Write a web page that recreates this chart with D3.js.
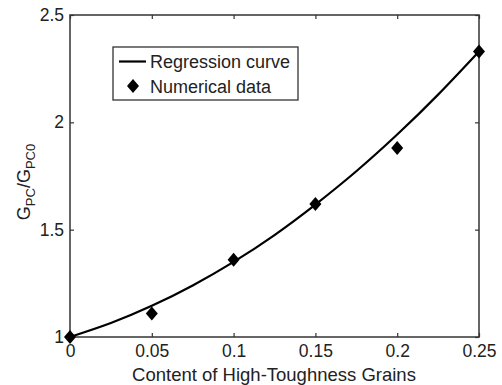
<!DOCTYPE html>
<style>
    body { margin: 0; background: #fff; }
    text { font-family: "Liberation Sans", Arial, sans-serif; fill: #222; }
    .frame { fill: none; stroke: #333; stroke-width: 1.5px; }
    .curve { fill: none; stroke: #000; stroke-width: 2.2px; }
</style>
<body>
<script src="https://d3js.org/d3.v7.min.js"></script>
<script>
    // numerical data (diamonds)
    var dataX = [0, 0.05, 0.1, 0.15, 0.2, 0.25];
    var dataY = [1.0, 1.11, 1.36, 1.62, 1.88, 2.33];
    // regression curve
    var curveX = [0, 0.025, 0.05, 0.075, 0.1, 0.125, 0.15, 0.175, 0.2, 0.225, 0.25];
    var curveY = [1.0, 1.065, 1.145, 1.24, 1.35, 1.475, 1.617, 1.772, 1.943, 2.129, 2.33];
    var xTicks = [0, 0.05, 0.1, 0.15, 0.2, 0.25];
    var yTicks = [1, 1.5, 2, 2.5];
    var legendLabels = ["Regression curve", "Numerical data"];

    var pl = 70, pr = 479, pt = 15, pb = 337;

    var svg = d3.select("body").append("svg")
        .attr("width", 502)
        .attr("height", 385);

    var x = d3.scaleLinear().domain([0, 0.25]).range([pl, pr]);
    var y = d3.scaleLinear().domain([1, 2.5]).range([pb, pt]);

    // box
    svg.append("rect")
        .attr("class", "frame")
        .attr("x", pl).attr("y", pt)
        .attr("width", pr - pl).attr("height", pb - pt);

    // ticks, inside, on all four sides
    var tk = 4;
    function tickStyle(g) {
        g.select(".domain").remove();
        g.selectAll(".tick line").attr("stroke", "#333").attr("stroke-width", 1.2);
        g.selectAll(".tick text").style("font-size", "17.5px").attr("fill", "#222");
    }
    svg.append("g")
        .attr("transform", "translate(0," + pb + ")")
        .call(d3.axisBottom(x).tickValues(xTicks).tickSize(-tk).tickPadding(8).tickFormat(d3.format("")))
        .call(tickStyle);
    svg.append("g")
        .attr("transform", "translate(0," + pt + ")")
        .call(d3.axisTop(x).tickValues(xTicks).tickSize(-tk).tickFormat(""))
        .call(tickStyle);
    svg.append("g")
        .attr("transform", "translate(" + pl + ",0)")
        .call(d3.axisLeft(y).tickValues(yTicks).tickSize(-tk).tickPadding(6).tickFormat(d3.format("")))
        .call(tickStyle);
    svg.append("g")
        .attr("transform", "translate(" + pr + ",0)")
        .call(d3.axisRight(y).tickValues(yTicks).tickSize(-tk).tickFormat(""))
        .call(tickStyle);

    // regression curve
    var line = d3.line()
        .x(function(d, i) { return x(curveX[i]); })
        .y(function(d) { return y(d); })
        .curve(d3.curveNatural);
    svg.append("path")
        .attr("class", "curve")
        .attr("d", line(curveY));

    // diamonds
    var diamond = "M0,-7L6,0L0,7L-6,0Z";
    svg.append("g").selectAll("path")
        .data(dataY)
        .enter().append("path")
        .attr("d", diamond)
        .attr("fill", "#000")
        .attr("transform", function(d, i) { return "translate(" + x(dataX[i]) + "," + y(d) + ")"; });

    // axis titles
    svg.append("text")
        .attr("x", 274)
        .attr("y", 381)
        .attr("text-anchor", "middle")
        .style("font-size", "18.5px")
        .text("Content of High-Toughness Grains");

    var yt = svg.append("text")
        .attr("transform", "translate(30,182) rotate(-90)")
        .attr("text-anchor", "middle")
        .style("font-size", "18px");
    yt.append("tspan").text("G");
    yt.append("tspan").attr("dy", 5).style("font-size", "13px").text("PC");
    yt.append("tspan").attr("dy", -5).text("/G");
    yt.append("tspan").attr("dy", 5).style("font-size", "13px").text("PC0");

    // legend
    var lg = svg.append("g");
    lg.append("rect")
        .attr("x", 113).attr("y", 47)
        .attr("width", 185).attr("height", 53)
        .attr("fill", "#fff")
        .attr("stroke", "#333").attr("stroke-width", 1.3);
    lg.append("line")
        .attr("x1", 119).attr("x2", 146)
        .attr("y1", 61.5).attr("y2", 61.5)
        .attr("stroke", "#000").attr("stroke-width", 2.2);
    lg.append("path")
        .attr("d", diamond)
        .attr("fill", "#000")
        .attr("transform", "translate(133,86)");
    lg.selectAll("text.lab")
        .data(legendLabels)
        .enter().append("text")
        .attr("class", "lab")
        .attr("x", 150)
        .attr("y", function(d, i) { return 67.5 + i * 25; })
        .style("font-size", "18px")
        .text(function(d) { return d; });
</script>
</body>
